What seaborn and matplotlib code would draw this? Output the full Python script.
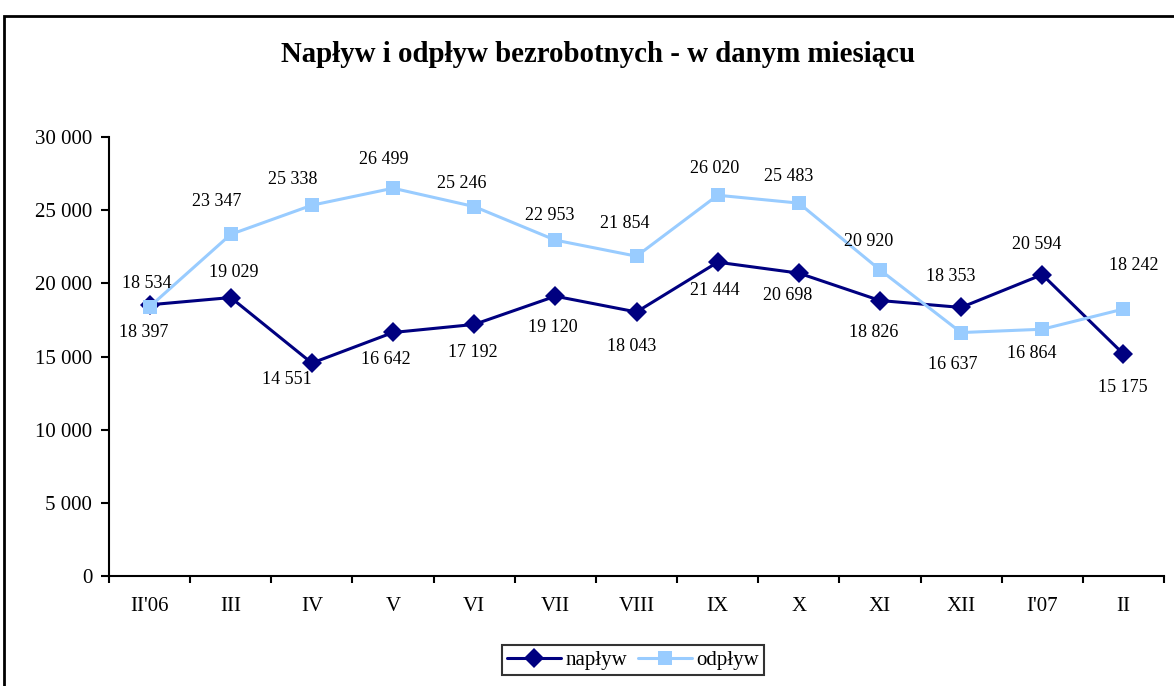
import numpy as np
import pandas as pd
import matplotlib.pyplot as plt
import seaborn as sns
from matplotlib.patches import Rectangle

# dane z wykresu
miesiace = ["II'06", "III", "IV", "V", "VI", "VII", "VIII", "IX", "X", "XI", "XII", "I'07", "II"]
naplyw = [18534, 19029, 14551, 16642, 17192, 19120, 18043, 21444, 20698, 18826, 18353, 20594, 15175]
odplyw = [18397, 23347, 25338, 26499, 25246, 22953, 21854, 26020, 25483, 20920, 16637, 16864, 18242]

naplyw_dx = [-3, 3, -25, -7, -1, -3, -5, -3, -11, -6, -10, -6, -1]
naplyw_dy = [-21, -25, 16, 27, 28, 31, 35, 28, 22, 32, -31, -30, 34]
odplyw_dx = [-6, -14, -19, -9, -12, -6, -12, -3, -10, -11, -8, -11, 10]
odplyw_dy = [26, -33, -26, -29, -23, -25, -33, -27, -27, -28, 32, 24, -44]

df_n = pd.DataFrame({'x': range(len(miesiace)), 'wartosc': naplyw})
df_o = pd.DataFrame({'x': range(len(miesiace)), 'wartosc': odplyw})

sns.set_style('white', {'text.color': 'black', 'axes.labelcolor': 'black',
                        'xtick.color': 'black', 'ytick.color': 'black'})
plt.rcParams['font.family'] = ['Liberation Serif', 'DejaVu Serif']

fig = plt.figure(figsize=(11.74, 6.86), dpi=100)
ax = fig.add_axes([109 / 1174, 0.1603, 1055 / 1174, 0.64])

sns.lineplot(data=df_n, x='x', y='wartosc', color='#000080', marker='D',
             markersize=10, markeredgewidth=0, linewidth=2.2, label='napływ', ax=ax)
sns.lineplot(data=df_o, x='x', y='wartosc', color='#99CCFF', marker='s',
             markersize=10, markeredgewidth=0, linewidth=2.2, label='odpływ', ax=ax)

def fmt(v):
    return f'{v:,}'.replace(',', ' ')

for wart, dxs, dys in ((naplyw, naplyw_dx, naplyw_dy), (odplyw, odplyw_dx, odplyw_dy)):
    for i, v in enumerate(wart):
        ax.annotate(fmt(v), (i, v), xytext=(dxs[i], -dys[i]), textcoords='offset pixels',
                    ha='center', va='center', fontsize=13, color='black')

ax.set_xlim(-0.5, len(miesiace) - 0.5)
ax.set_ylim(0, 30000)
ax.set_yticks(np.arange(0, 30001, 5000))
ax.set_yticklabels([fmt(v) for v in range(0, 30001, 5000)], fontsize=15)
ax.set_xticks(range(len(miesiace)))
ax.set_xticklabels(miesiace, fontsize=15)
ax.set_xticks(np.arange(-0.5, len(miesiace), 1), minor=True)
ax.tick_params(axis='x', which='major', length=0, pad=15)
ax.tick_params(axis='x', which='minor', length=5, width=1.5, direction='out', bottom=True)
ax.tick_params(axis='y', length=6, width=1.5, direction='out', left=True, pad=6)
ax.set_xlabel('')
ax.set_ylabel('')

for s in ['top', 'right']:
    ax.spines[s].set_visible(False)
for s in ['left', 'bottom']:
    ax.spines[s].set_color('black')
    ax.spines[s].set_linewidth(1.5)

fig.text(598 / 1174, 1 - 55 / 686, 'Napływ i odpływ bezrobotnych - w danym miesiącu',
         ha='center', va='center', fontsize=20.8, fontweight='bold', color='black')

h, l = ax.get_legend_handles_labels()
leg = ax.legend(h, l, loc='center', bbox_to_anchor=(633 / 1174, 1 - 660 / 686),
                bbox_transform=fig.transFigure, ncol=2, frameon=True, fancybox=False,
                edgecolor='black', fontsize=15, handlelength=2.6, columnspacing=0.5,
                handletextpad=0.2, borderpad=0.25, borderaxespad=0)
leg.get_frame().set_linewidth(1.5)

fig.patches.append(Rectangle((4 / 1174, -0.05), 1.2, 1 - 16 / 686 + 0.05,
                             transform=fig.transFigure, fill=False,
                             edgecolor='black', linewidth=2))

fig.savefig('out.png', dpi=100)
